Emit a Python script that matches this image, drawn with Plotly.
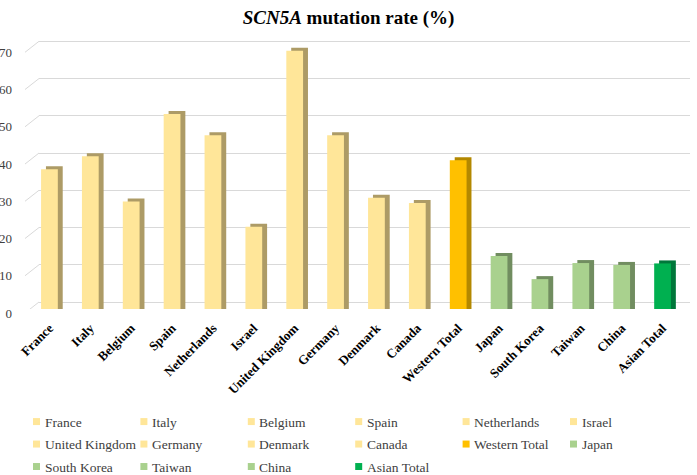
import plotly.graph_objects as go

# ---- data ----
categories = ["France", "Italy", "Belgium", "Spain", "Netherlands", "Israel",
              "United Kingdom", "Germany", "Denmark", "Canada", "Western Total",
              "Japan", "South Korea", "Taiwan", "China", "Asian Total"]
rates = [37.4, 40.9, 28.8, 52.2, 46.5, 22.0, 69.1, 46.5, 29.8, 28.4, 39.8,
         14.2, 8.0, 12.3, 11.8, 12.2]
groups = ["w"] * 10 + ["wt"] + ["a"] * 4 + ["at"]
y_ticks = [0, 10, 20, 30, 40, 50, 60, 70]

# ---- styles ----
front_col = {"w": "#FFE699", "wt": "#FFC000", "a": "#A9D18E", "at": "#00B050"}
side_col = {"w": "#AD9B66", "wt": "#B38800", "a": "#718D60", "at": "#00773A"}

W, H = 697, 475
PX_PER_UNIT = 3.74          # front-plane scale
front_bottom, top_px = 309, 39.7
back_zero = 302
bar_w = 0.41
depth_dx = 0.12             # side-face shift (category units)
depth_dy = 0.8              # side-face lift (value units)

fig = go.Figure()

# invisible trace carrying the back-wall grid axes (drawn first / below)
fig.add_trace(go.Scatter(x=categories, y=rates, mode="markers",
                         marker=dict(opacity=0), showlegend=False,
                         hoverinfo="skip", xaxis="x", yaxis="y"))

# side / top faces (behind the fronts)
for c, v, g in zip(categories, rates, groups):
    fig.add_trace(go.Bar(
        x=[c], y=[v + depth_dy], width=[bar_w],
        offset=-bar_w / 2 + depth_dx,
        marker=dict(color=side_col[g], line=dict(width=0)),
        showlegend=False, hoverinfo="skip", xaxis="x2", yaxis="y2"))

# front faces
for c, v, g in zip(categories, rates, groups):
    fig.add_trace(go.Bar(
        x=[c], y=[v], width=[bar_w], offset=-bar_w / 2, name=c,
        marker=dict(color=front_col[g], line=dict(width=0)),
        showlegend=False, hoverinfo="skip", xaxis="x2", yaxis="y2"))

y2_top = (front_bottom - top_px) / PX_PER_UNIT
back_scale = (back_zero - 41) / 70
y_lo = -(front_bottom - back_zero) / back_scale
y_hi = (back_zero - top_px) / back_scale

shapes, annotations = [], []

# slanted gridline stubs (perspective)
for t in y_ticks:
    shapes.append(dict(type="line", xref="paper", yref="y", layer="below",
                       x0=25 / W, x1=39 / W, y0=t - 11 / back_scale, y1=t,
                       line=dict(color="#D9D9D9", width=1)))

# legend laid out as in the reference (6 columns x 3 rows)
plot_h = front_bottom - top_px
def py(px):
    return (front_bottom - px) / plot_h

n_cols, col_x0, col_dx = 6, 33, 107.4
row_y0, row_dy, sw = 421.7, 22.5, 7
for i, (c, g) in enumerate(zip(categories, groups)):
    r, k = divmod(i, n_cols)
    x_l = col_x0 + k * col_dx
    y_c = row_y0 + r * row_dy
    shapes.append(dict(type="rect", xref="paper", yref="paper",
                       x0=x_l / W, x1=(x_l + sw) / W,
                       y0=py(y_c + sw / 2), y1=py(y_c - sw / 2),
                       fillcolor=front_col[g], line=dict(width=0)))
    annotations.append(dict(text=c, xref="paper", yref="paper",
                            x=(x_l + 9.5) / W, y=py(y_c + 0.5),
                            xanchor="left", yanchor="middle", showarrow=False,
                            font=dict(family="Liberation Serif", size=13.5,
                                      color="#404040")))

fig.update_layout(
    width=W, height=H,
    margin=dict(l=0, r=0, t=top_px, b=H - front_bottom),
    paper_bgcolor="white", plot_bgcolor="rgba(0,0,0,0)",
    barmode="overlay",
    showlegend=False,
    title=dict(text="<i>SCN5A</i> mutation rate (%)", x=0.5, xanchor="center",
               y=1 - 17 / H, yanchor="middle",
               font=dict(family="Liberation Serif", size=19, color="black",
                         weight="bold")),
    xaxis=dict(domain=[39 / W, 690 / W], type="category",
               range=[-0.5, len(categories) - 0.5], automargin=False,
               showgrid=False, zeroline=False, showline=False,
               showticklabels=False, ticks="", anchor="y"),
    yaxis=dict(range=[y_lo, y_hi], tickvals=y_ticks, anchor="x",
               automargin=False,
               showgrid=True, gridcolor="#D9D9D9", gridwidth=1,
               zeroline=False, showline=False, ticks="",
               ticklabelshift=11, ticklabelstandoff=26,
               tickfont=dict(family="Liberation Serif", size=13, color="#404040")),
    xaxis2=dict(domain=[29 / W, 683 / W], type="category",
                range=[-0.5, len(categories) - 0.5], automargin=False,
                showgrid=False, zeroline=False, showline=False, ticks="",
                tickangle=-45, ticklabelstandoff=8,
                tickfont=dict(family="Liberation Serif", size=13, color="black",
                              weight="bold"),
                anchor="y2"),
    yaxis2=dict(range=[0, y2_top], anchor="x2", automargin=False,
                showgrid=False, zeroline=False, showline=False,
                showticklabels=False, ticks=""),
    shapes=shapes,
    annotations=annotations,
)

fig.write_html("out.html", config={"displayModeBar": False},
               post_script="document.body.style.margin='0px';")
